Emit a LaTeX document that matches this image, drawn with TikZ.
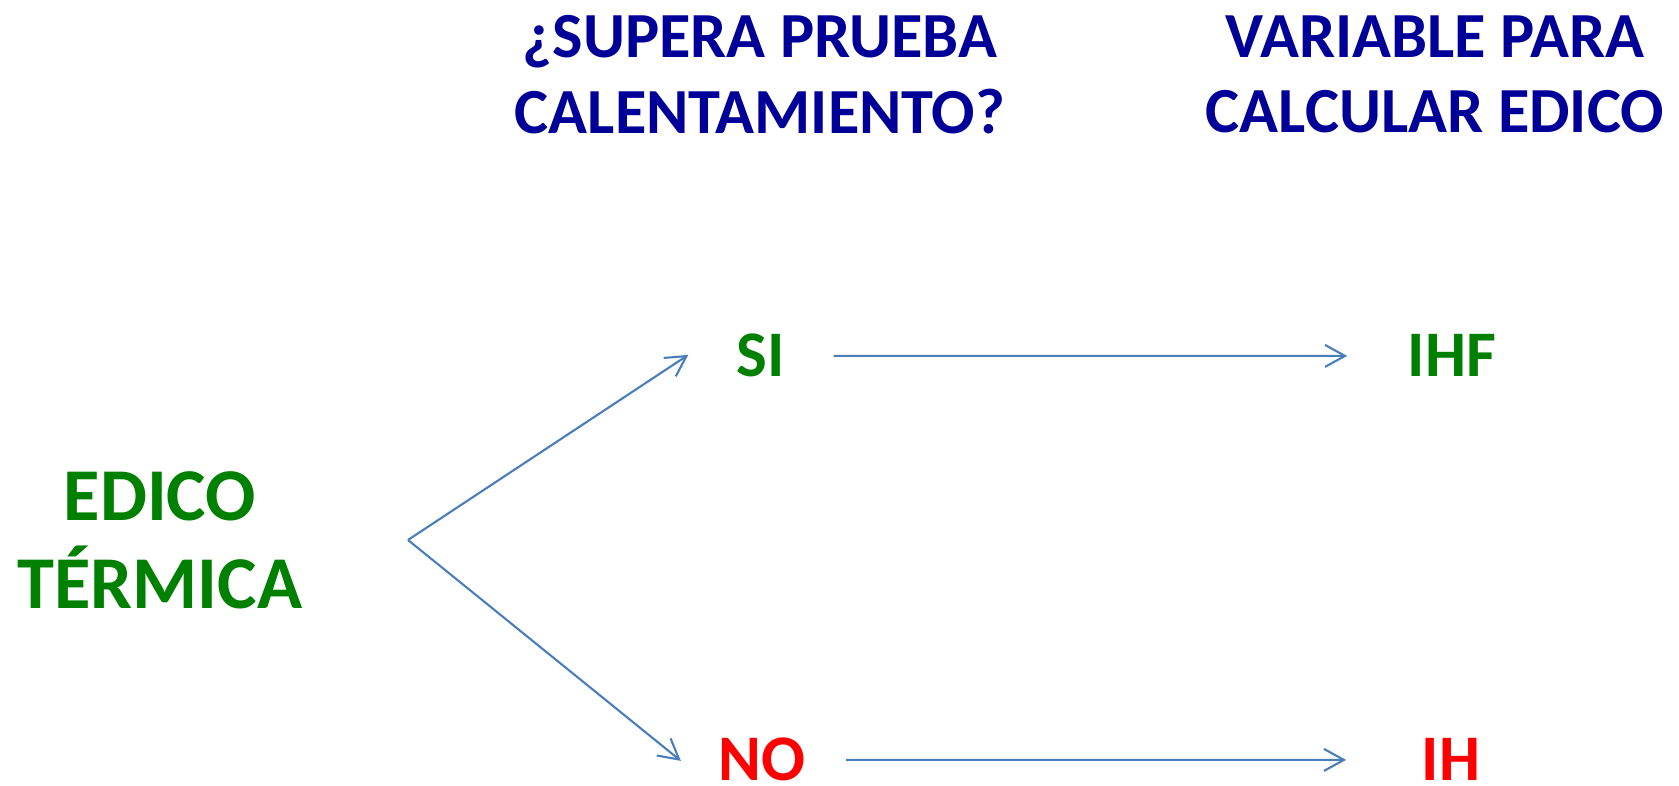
\documentclass[tikz,border=0pt]{standalone}
\usepackage{fontspec}
\setmainfont{Carlito}
\usetikzlibrary{arrows.meta}
\definecolor{headblue}{RGB}{0,0,153}
\definecolor{okgreen}{RGB}{0,128,0}
\definecolor{failred}{RGB}{255,0,0}
\definecolor{linkblue}{RGB}{74,126,187}
\begin{document}
\begin{tikzpicture}[>={Straight Barb[length=2mm,width=2.2mm]},
  head/.style={inner sep=0pt,align=center,text=headblue,font=\bfseries\fontsize{18.3}{21.4}\selectfont},
  topic/.style={inner sep=0pt,align=center,text=okgreen,font=\bfseries\fontsize{21.2}{25}\selectfont},
  answer/.style={inner sep=0pt,anchor=base,font=\bfseries\fontsize{18.5}{22}\selectfont},
  link/.style={->,draw=linkblue,line width=0.6pt}]
\useasboundingbox (0,0) rectangle (16.79,-7.86);
% column titles
\node[head,anchor=north] (prueba) at (7.60,-0.15) {¿SUPERA PRUEBA\\CALENTAMIENTO?};
\node[head,anchor=north] (variable) at (14.35,-0.15) {VARIABLE PARA\\CALCULAR EDICO};
% start
\node[topic,anchor=north] (edico) at (1.60,-4.71) {EDICO\\TÉRMICA};
\coordinate (fork) at (4.08,-5.40);
% answers
\node[answer,text=okgreen] (si) at (7.61,-3.77) {SI};
\node[answer,text=failred] (no) at (7.62,-7.81) {NO};
\node[answer,text=okgreen] (ihf) at (14.52,-3.77) {IHF};
\node[answer,text=failred] (ih) at (14.51,-7.81) {IH};
% arrows
\draw[link] (fork) -- ([xshift=-4.8mm,yshift=0.1mm]si.west);
\draw[link] (fork) -- ([xshift=-3.7mm,yshift=-0.1mm]no.west);
\draw[link] ([xshift=4.8mm]si.east) -- ([xshift=-6mm]ihf.west);
\draw[link] ([xshift=4mm]no.east) -- ([xshift=-7.5mm]ih.west);
\end{tikzpicture}
\end{document}
